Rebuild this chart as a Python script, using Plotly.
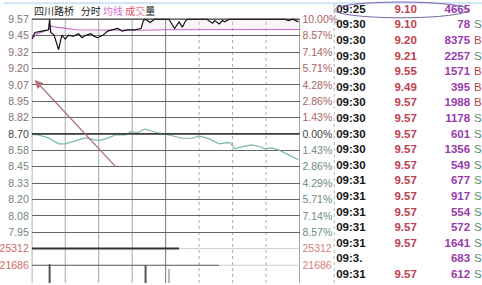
import plotly.graph_objects as go

W, H = 482, 285

# ---------------- data ----------------
stock_name = "四川路桥"
prev_close = 8.70

price_minutes = [0, 3, 9, 15, 16, 17, 20, 22, 24, 27, 30, 33, 37, 42, 45, 49, 53, 56, 59, 64,
                 68, 72, 77, 81, 86, 92, 98, 100, 102, 106, 110, 123, 128, 132, 135, 138, 140,
                 157, 159, 162, 164, 168, 171, 173, 177, 227, 230, 234, 239]
price_values = [9.42, 9.47, 9.48, 9.49, 9.57, 9.47, 9.45, 9.40, 9.34, 9.45, 9.42, 9.45, 9.44, 9.46, 9.43, 9.45, 9.46, 9.44, 9.43, 9.45,
                9.48, 9.49, 9.50, 9.48, 9.49, 9.49, 9.50, 9.56, 9.57, 9.545, 9.57, 9.57, 9.50, 9.55, 9.51, 9.56, 9.57,
                9.57, 9.56, 9.54, 9.56, 9.535, 9.56, 9.55, 9.57, 9.57, 9.56, 9.57, 9.55]

avg_minutes = [0, 5, 15, 17, 22, 40, 100, 120, 240]
avg_values = [9.42, 9.46, 9.49, 9.52, 9.51, 9.49, 9.487, 9.49, 9.492]

index_minutes = [0, 6, 15, 24, 30, 36, 42, 48, 53, 60, 66, 75, 84, 89, 95, 101, 107, 113, 119,
                 126, 135, 144, 150, 159, 168, 175, 178, 182, 188, 197, 204, 209, 215, 221, 227, 233, 239]
index_pct = [-0.04, -0.09, -0.34, -0.86, -0.86, -0.66, -0.52, -0.34, -0.43, -0.58, -0.43, -0.09, -0.09, 0.20, 0.11, 0.43, 0.28, 0.09, 0.0,
             -0.17, -0.37, -0.37, -0.17, -0.43, -0.86, -0.75, -0.77, -1.29, -1.12, -0.95, -1.09, -1.29, -1.21, -1.38, -1.64, -1.95, -2.24]

vol_minutes = [16, 102, 123]
vol_values = [21900, 21750, 20900]

price_labels = ["9.57", "9.45", "9.32", "9.20", "9.07", "8.95", "8.82", "8.70",
                "8.58", "8.45", "8.33", "8.20", "8.08", "7.95"]
pct_labels = ["10.00%", "8.57%", "7.14%", "5.71%", "4.28%", "2.86%", "1.43%", "0.00%",
              "1.43%", "2.86%", "4.29%", "5.71%", "7.14%", "8.57%"]
vol_ticks = [25312, 21686, 18060]

trade_times = ["09:25"] + ["09:30"] * 10 + ["09:31"] * 5 + ["09:3.", "09:31"]
trade_prices = ["9.10", "9.10", "9.20", "9.21", "9.55", "9.49", "9.57", "9.57", "9.57",
                "9.57", "9.57", "9.57", "9.57", "9.57", "9.57", "9.57", "", "9.57"]
trade_vols = [4665, 78, 8375, 2257, 1571, 395, 1988, 1178, 601, 1356, 549, 677, 917, 554, 572, 1641, 683, 612]
trade_sides = ["", "S", "B", "S", "B", "B", "B", "S", "S", "S", "S", "S", "S", "S", "S", "S", "S", "S"]

# ---------------- helpers ----------------
def px(x):
    return x / W

def py(y):
    return 1 - y / H

step = prev_close * 0.1 / 7
price_ticks = [prev_close + k * step for k in range(7, -7, -1)]
top_p, bot_p = price_ticks[0], price_ticks[-1]
top_px, bot_px = 17.5, 233.6
ppu = (bot_px - top_px) / (top_p - bot_p)
pad = 0.03
y_dom = [py(bot_px + pad * ppu), py(top_px - pad * ppu)]
y_rng = [bot_p - pad, top_p + pad]

def col_left(i):
    if i < 7:
        return "#857278"
    if i == 7:
        return "#444444"
    return "#70867a"

def col_right(i):
    if i < 7:
        return "#a86464"
    if i == 7:
        return "#444444"
    return "#6f8a78"

left_text = ['<span style="color:%s">%s</span>' % (col_left(i), t) for i, t in enumerate(price_labels)]
right_text = ['<span style="color:%s">%s</span>' % (col_right(i), t) for i, t in enumerate(pct_labels)]

# volume panel scale
v_px_top, v_px_2 = 250.0, 267.0
vpp = (vol_ticks[0] - vol_ticks[1]) / (v_px_2 - v_px_top)
v_dom_top_px = 244.0
v_rng = [vol_ticks[0] - (H - v_px_top) * vpp, vol_ticks[0] + (v_px_top - v_dom_top_px) * vpp]

x_dom = [px(28), px(298)]

fig = go.Figure()

# index (green) line on price scale
fig.add_trace(go.Scatter(x=index_minutes, y=[prev_close * (1 + p / 100) for p in index_pct],
                         mode="lines", line=dict(color="#80b89c", width=1.2),
                         xaxis="x", yaxis="y", hoverinfo="skip"))
# average line
fig.add_trace(go.Scatter(x=avg_minutes, y=avg_values, mode="lines",
                         line=dict(color="#c468c4", width=1.1), xaxis="x", yaxis="y", hoverinfo="skip"))
# price line (with faint pink tint towards the average line)
fig.add_trace(go.Scatter(x=price_minutes, y=price_values, mode="lines",
                         line=dict(color="#111111", width=1.2), fill="tonexty",
                         fillcolor="rgba(232,180,226,0.16)",
                         xaxis="x", yaxis="y", hoverinfo="skip"))
# dummy for right axis
fig.add_trace(go.Scatter(x=[0], y=[prev_close], mode="markers", marker=dict(opacity=0),
                         xaxis="x", yaxis="y2", hoverinfo="skip"))
# volume
fig.add_trace(go.Bar(x=vol_minutes, y=vol_values, width=1.8,
                     marker=dict(color=["#555555", "#555555", "#b8b8b8"], line=dict(width=0)),
                     xaxis="x2", yaxis="y4", hoverinfo="skip"))
fig.add_trace(go.Scatter(x=[0], y=[vol_ticks[1]], mode="markers", marker=dict(opacity=0),
                         xaxis="x2", yaxis="y5", hoverinfo="skip"))

# trade table
rows = list(range(len(trade_times)))
tfont = "Liberation Sans, Arial"
tsize = 11.5
fig.add_trace(go.Scatter(x=[2] * len(rows), y=rows, mode="text",
                         text=["<b>%s</b>" % t for t in trade_times], textposition="middle right",
                         textfont=dict(family=tfont, size=tsize, color="#151515"),
                         xaxis="x3", yaxis="y3", hoverinfo="skip"))
fig.add_trace(go.Scatter(x=[72] * len(rows), y=rows, mode="text",
                         text=["<b>%s</b>" % t for t in trade_prices], textposition="middle center",
                         textfont=dict(family=tfont, size=tsize, color="#c0404f"),
                         xaxis="x3", yaxis="y3", hoverinfo="skip"))
fig.add_trace(go.Scatter(x=[137] * len(rows), y=rows, mode="text",
                         text=["<b>%d</b>" % v for v in trade_vols], textposition="middle left",
                         textfont=dict(family=tfont, size=tsize, color="#9a3aae"),
                         xaxis="x3", yaxis="y3", hoverinfo="skip"))
fig.add_trace(go.Scatter(x=[141] * len(rows), y=rows, mode="text",
                         text=trade_sides, textposition="middle right",
                         textfont=dict(family=tfont, size=tsize,
                                       color=["#b04848" if s == "B" else "#5e8c70" for s in trade_sides]),
                         xaxis="x3", yaxis="y3", hoverinfo="skip"))

row_px0, row_px_last = 8.0, 277.0
rstep = (row_px_last - row_px0) / (len(rows) - 1)
t_rng = [(H - row_px0) / rstep, -row_px0 / rstep]

shapes = []
# top light-blue strip
shapes.append(dict(type="rect", xref="paper", yref="paper", x0=0, x1=1, y0=py(2.2), y1=1,
                   fillcolor="#d3e5f6", line=dict(width=0), layer="below"))
# vertical gridlines
for m, c, d in [(30, "#a8a8a8", "solid"), (60, "#a8a8a8", "solid"), (90, "#a8a8a8", "solid"),
                (120, "#7a7a7a", "solid"), (150, "#b0b0b0", "dot"), (180, "#b0b0b0", "dot"),
                (210, "#b0b0b0", "dot")]:
    shapes.append(dict(type="line", xref="x", yref="paper", x0=m, x1=m, y0=0, y1=py(top_px),
                       line=dict(color=c, width=1, dash=d), layer="below"))
for m in [0, 240]:
    shapes.append(dict(type="line", xref="x", yref="paper", x0=m, x1=m, y0=0, y1=py(top_px),
                       line=dict(color="#555555", width=1)))
# zero line
shapes.append(dict(type="line", xref="x", yref="y", x0=0, x1=240, y0=prev_close, y1=prev_close,
                   line=dict(color="#333333", width=1.6)))
shapes.append(dict(type="line", xref="x", yref="y", x0=0, x1=240, y0=top_p, y1=top_p,
                   line=dict(color="#444444", width=1.4), layer="below"))
# volume panel lines
shapes.append(dict(type="line", xref="x2", yref="y4", x0=0, x1=132, y0=vol_ticks[0], y1=vol_ticks[0],
                   line=dict(color="#333333", width=2)))
shapes.append(dict(type="line", xref="x2", yref="y4", x0=132, x1=240, y0=vol_ticks[0], y1=vol_ticks[0],
                   line=dict(color="#d0d0d0", width=1)))
shapes.append(dict(type="line", xref="x2", yref="y4", x0=0, x1=168, y0=vol_ticks[1], y1=vol_ticks[1],
                   line=dict(color="#555555", width=1)))
shapes.append(dict(type="line", xref="x2", yref="y4", x0=168, x1=240, y0=vol_ticks[1], y1=vol_ticks[1],
                   line=dict(color="#cccccc", width=1)))
# table separator
shapes.append(dict(type="line", xref="paper", yref="paper", x0=px(333), x1=px(333), y0=0, y1=py(2),
                   line=dict(color="#b5b5b5", width=1, dash="dot")))
# hand-drawn ellipse round first trade
shapes.append(dict(type="circle", xref="paper", yref="paper", x0=px(333), x1=px(468), y0=py(16), y1=py(0),
                   line=dict(color="#7a66a8", width=1)))

annotations = [
    dict(xref="paper", yref="paper", x=px(28), y=py(9), xanchor="left", yanchor="middle", showarrow=False,
         text='四川路桥&nbsp;&nbsp;&nbsp;分时 <span style="color:#d86ad0">均线</span> '
              '<span style="color:#e0506a">成</span><span style="color:#e88aa0">交</span>量',
         font=dict(family="Noto Sans CJK SC", size=10, color="#222222")),
    dict(xref="paper", yref="paper", x=px(31), y=py(79), ax=82, ay=88, text="", showarrow=True,
         arrowhead=2, arrowsize=1.3, arrowwidth=1.3, arrowcolor="#b3707c"),
]

lab_font = dict(family="Liberation Sans, Arial", size=10.5)
fig.update_layout(
    width=W, height=H, margin=dict(l=0, r=0, t=0, b=0),
    paper_bgcolor="white", plot_bgcolor="rgba(0,0,0,0)", showlegend=False,
    xaxis=dict(domain=x_dom, range=[0, 240], visible=False, anchor="y"),
    yaxis=dict(domain=y_dom, range=y_rng, anchor="x", tickvals=price_ticks, ticktext=left_text,
               showgrid=True, gridcolor="#666666", gridwidth=1, zeroline=False, showline=False,
               ticks="", tickfont=lab_font, ticklabelstandoff=2),
    yaxis2=dict(overlaying="y", side="right", range=y_rng, anchor="x", tickvals=price_ticks, ticktext=right_text,
                showgrid=False, zeroline=False, showline=False, ticks="", tickfont=lab_font, ticklabelstandoff=2),
    xaxis2=dict(domain=x_dom, range=[0, 240], visible=False, anchor="y4"),
    yaxis4=dict(domain=[0, py(v_dom_top_px)], range=v_rng, anchor="x2", tickvals=vol_ticks,
                ticktext=[str(v) for v in vol_ticks], showgrid=False, zeroline=False, ticks="",
                tickfont=dict(family="Liberation Sans, Arial", size=10.5, color="#d46a6a"), ticklabelstandoff=2),
    yaxis5=dict(overlaying="y4", side="right", range=v_rng, anchor="x2", tickvals=vol_ticks,
                ticktext=[str(v) for v in vol_ticks], showgrid=False, zeroline=False, ticks="",
                tickfont=dict(family="Liberation Sans, Arial", size=10.5, color="#d88080"), ticklabelstandoff=2),
    xaxis3=dict(domain=[px(333), 1], range=[0, W - 333], visible=False, anchor="y3"),
    yaxis3=dict(domain=[0, 1], range=t_rng, visible=False, anchor="x3"),
    shapes=shapes, annotations=annotations,
)

fig.write_html("out.html")
